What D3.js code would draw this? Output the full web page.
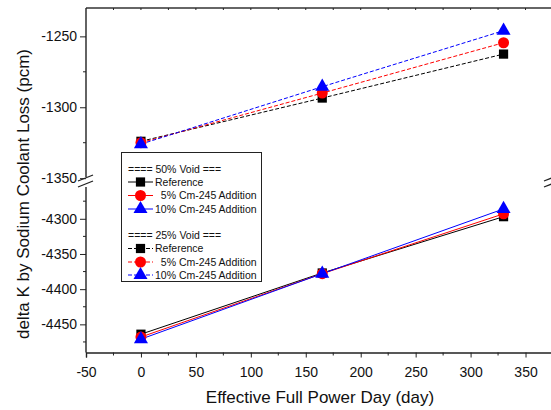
<!DOCTYPE html>
<html>
<head>
<meta charset="utf-8">
<script src="https://cdn.jsdelivr.net/npm/d3@7"></script>
<style>
  body { margin: 0; background: #fff; }
  svg { display: block; font-family: "Liberation Sans", Arial, sans-serif; }
</style>
</head>
<body>
<svg id="chart" width="551" height="410"></svg>
<script>
// effective full power days
var days = [0, 165, 330];

// 50% void (lower panel, solid lines)
var void50Ref = [-4464, -4377, -4297];
var void50Cm5 = [-4468, -4378, -4293];
var void50Cm10 = [-4471, -4378, -4286];

// 25% void (upper panel, dashed lines)
var void25Ref = [-1324, -1293.5, -1262.5];
var void25Cm5 = [-1325, -1290, -1254.5];
var void25Cm10 = [-1326, -1285.5, -1246];

var xTicks = [-50, 0, 50, 100, 150, 200, 250, 300, 350];
var upperTicks = [-1350, -1300, -1250];
var lowerTicks = [-4450, -4400, -4350, -4300];

var svg = d3.select("#chart");

var plotL = 86, plotR = 553, plotT = 8, plotB = 352.5;
var breakTop = 181, breakBot = 185;

var x = d3.scaleLinear().domain([-50, 375]).range([plotL, plotR]);
var yUp = d3.scaleLinear().domain([-1352, -1230]).range([breakTop, plotT]);
var yLo = d3.scaleLinear().domain([-4490, -4252]).range([plotB, breakBot]);
var fmt = function(d) { return String(d); };

// frame top
svg.append("line").attr("x1", plotL).attr("x2", plotR).attr("y1", plotT).attr("y2", plotT)
  .attr("stroke", "#333").attr("stroke-width", 1.6);

// bottom axis
var xAxis = d3.axisBottom(x).tickValues(xTicks).tickSize(5).tickFormat(fmt);
var gx = svg.append("g").attr("transform", "translate(0," + plotB + ")").call(xAxis);
gx.selectAll(".tick line").attr("stroke", "#222");
gx.select(".domain").attr("stroke", "#222").attr("stroke-width", 1.4);
gx.selectAll("text").attr("font-size", 14).attr("fill", "#111").attr("dy", "1.2em");
var xMinor = d3.range(-25, 376, 50);
svg.append("g").selectAll("line").data(xMinor).enter().append("line")
  .attr("x1", function(d) { return x(d); }).attr("x2", function(d) { return x(d); })
  .attr("y1", plotB).attr("y2", plotB + 3).attr("stroke", "#222");
// top axis ticks
svg.append("g").selectAll("line").data(d3.range(-25, 376, 25)).enter().append("line")
  .attr("x1", function(d) { return x(d); }).attr("x2", function(d) { return x(d); })
  .attr("y1", plotT).attr("y2", plotT + 2).attr("stroke", "#222");

// left axis, upper segment
var gUp = svg.append("g").attr("transform", "translate(" + plotL + ",0)")
  .call(d3.axisLeft(yUp).tickValues(upperTicks).tickSize(6).tickFormat(fmt));
gUp.select(".domain").remove();
gUp.selectAll(".tick line").attr("stroke", "#222");
gUp.selectAll("text").attr("font-size", 14).attr("fill", "#111");
svg.append("line").attr("x1", plotL).attr("x2", plotL).attr("y1", plotT).attr("y2", breakTop - 4)
  .attr("stroke", "#222").attr("stroke-width", 1.4);
svg.append("g").selectAll("line").data([-1325, -1275]).enter().append("line")
  .attr("x1", plotL - 3).attr("x2", plotL).attr("y1", function(d) { return yUp(d); })
  .attr("y2", function(d) { return yUp(d); }).attr("stroke", "#222");

// left axis, lower segment
var gLo = svg.append("g").attr("transform", "translate(" + plotL + ",0)")
  .call(d3.axisLeft(yLo).tickValues(lowerTicks).tickSize(6).tickFormat(fmt));
gLo.select(".domain").remove();
gLo.selectAll(".tick line").attr("stroke", "#222");
gLo.selectAll("text").attr("font-size", 14).attr("fill", "#111");
svg.append("line").attr("x1", plotL).attr("x2", plotL).attr("y1", breakBot + 2).attr("y2", plotB)
  .attr("stroke", "#222").attr("stroke-width", 1.4);
svg.append("g").selectAll("line").data([-4475, -4425, -4375, -4325, -4275]).enter().append("line")
  .attr("x1", plotL - 3).attr("x2", plotL).attr("y1", function(d) { return yLo(d); })
  .attr("y2", function(d) { return yLo(d); }).attr("stroke", "#222");

// break marks
function breakMark(cx) {
  [breakTop - 3, breakBot - 1].forEach(function(yy) {
    svg.append("line").attr("x1", cx - 8).attr("x2", cx + 7)
      .attr("y1", yy + 3).attr("y2", yy - 3).attr("stroke", "#222").attr("stroke-width", 1.3);
  });
}
breakMark(plotL);
breakMark(plotR - 1);

// axis titles
svg.append("text").attr("x", 320).attr("y", 403).attr("text-anchor", "middle")
  .attr("font-size", 17).attr("fill", "#111").text("Effective Full Power Day (day)");
svg.append("text").attr("transform", "translate(29,194) rotate(-90)").attr("text-anchor", "middle")
  .attr("font-size", 17).attr("fill", "#111").text("delta K by Sodium Coolant Loss (pcm)");

var series = [
  { vals: void50Ref, color: "#000", dash: null, shape: "square", y: yLo },
  { vals: void50Cm5, color: "#f00", dash: null, shape: "circle", y: yLo },
  { vals: void50Cm10, color: "#00f", dash: null, shape: "triangle", y: yLo },
  { vals: void25Ref, color: "#000", dash: "4,2", shape: "square", y: yUp },
  { vals: void25Cm5, color: "#f00", dash: "4,2", shape: "circle", y: yUp },
  { vals: void25Cm10, color: "#00f", dash: "4,2", shape: "triangle", y: yUp }
];

var symbols = {
  square: d3.symbol().type(d3.symbolSquare).size(85),
  circle: d3.symbol().type(d3.symbolCircle).size(95),
  triangle: d3.symbol().type(d3.symbolTriangle).size(85)
};

series.forEach(function(s) {
  var line = d3.line().x(function(d, i) { return x(days[i]); }).y(function(d) { return s.y(d); });
  svg.append("path").datum(s.vals).attr("d", line).attr("fill", "none")
    .attr("stroke", s.color).attr("stroke-width", 1).attr("stroke-dasharray", s.dash);
});
series.forEach(function(s) {
  svg.append("g").selectAll("path").data(s.vals).enter().append("path")
    .attr("d", symbols[s.shape])
    .attr("transform", function(d, i) { return "translate(" + x(days[i]) + "," + s.y(d) + ")"; })
    .attr("fill", s.color);
});

// legend
var lg = svg.append("g");
lg.append("rect").attr("x", 121.5).attr("y", 152.5).attr("width", 140).attr("height", 129)
  .attr("fill", "#fff").attr("stroke", "#222");
var legendRows = [
  { label: "==== 50% Void ===", y: 169 },
  { label: "Reference", y: 182, s: series[0] },
  { label: "  5% Cm-245 Addition", y: 195.5, s: series[1] },
  { label: "10% Cm-245 Addition", y: 209, s: series[2] },
  { label: "==== 25% Void ===", y: 235, s: null },
  { label: "Reference", y: 248.5, s: series[3] },
  { label: "  5% Cm-245 Addition", y: 262, s: series[4] },
  { label: "10% Cm-245 Addition", y: 275, s: series[5] }
];
legendRows.forEach(function(r) {
  var tx = r.s ? 155 : 128;
  lg.append("text").attr("x", tx).attr("y", r.y).attr("dy", "0.35em").attr("font-size", 10.5)
    .attr("fill", "#111").attr("xml:space", "preserve").style("white-space", "pre").text(r.label);
  if (r.s) {
    lg.append("line").attr("x1", 128).attr("x2", 153).attr("y1", r.y).attr("y2", r.y)
      .attr("stroke", r.s.color).attr("stroke-dasharray", r.s.dash);
    lg.append("path").attr("d", symbols[r.s.shape])
      .attr("transform", "translate(140.5," + r.y + ")").attr("fill", r.s.color);
  }
});
</script>
</body>
</html>
